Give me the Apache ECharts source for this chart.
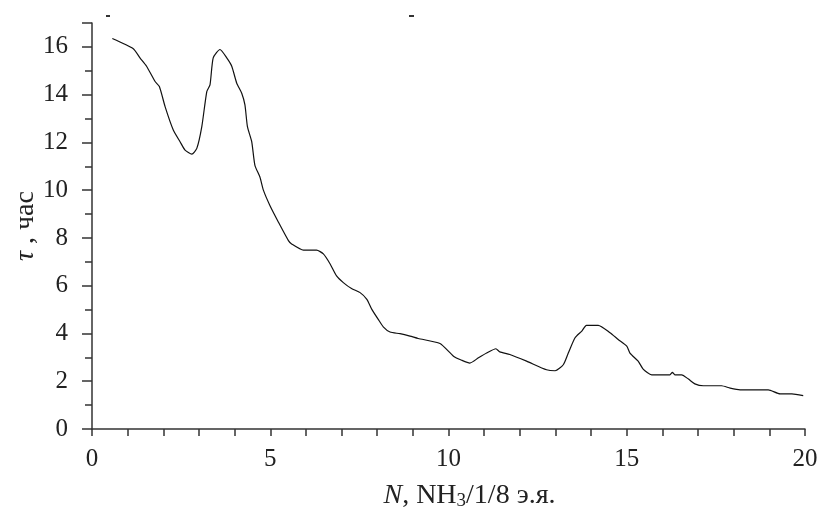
<!DOCTYPE html>
<html>
<head>
<meta charset="utf-8">
<script src="https://cdn.jsdelivr.net/npm/echarts@6/dist/echarts.min.js"></script>
<style>
  html, body { margin: 0; padding: 0; background: #fff; }
  #tauChart { width: 818px; height: 511px; }
</style>
</head>
<body>
<div id="tauChart"></div>
<script>
// N, NH3/1/8 э.я.
const nValues = [
  0.57, 1.15, 1.35, 1.53, 1.77, 1.89, 2.05, 2.28, 2.47, 2.61, 2.80, 2.94, 3.08, 3.22, 3.31, 3.40,
  3.59, 3.78, 3.92, 4.06, 4.20, 4.29, 4.36, 4.48, 4.57, 4.71, 4.81, 4.99, 5.23, 5.51, 5.60, 5.93,
  6.30, 6.49, 6.68, 6.86, 7.05, 7.28, 7.52, 7.71, 7.85, 8.03, 8.17, 8.36, 8.64, 8.92, 9.15, 9.76,
  10.14, 10.37, 10.60, 10.84, 11.07, 11.33, 11.44, 11.72, 12.19, 12.75, 12.99, 13.22, 13.36, 13.55,
  13.74, 13.87, 14.20, 14.53, 14.76, 15.00, 15.09, 15.32, 15.46, 15.70, 16.21, 16.28, 16.35, 16.54,
  16.73, 16.91, 17.15, 17.66, 17.90, 18.18, 18.97, 19.30, 19.63, 19.95
];
// τ, час
const tauValues = [
  16.35, 15.93, 15.53, 15.19, 14.55, 14.34, 13.50, 12.52, 12.03, 11.68, 11.51, 11.75, 12.66, 14.13, 14.41, 15.54,
  15.89, 15.54, 15.19, 14.48, 14.06, 13.57, 12.66, 12.03, 11.04, 10.55, 9.99, 9.36, 8.66, 7.89, 7.75, 7.49,
  7.49, 7.33, 6.91, 6.41, 6.13, 5.88, 5.71, 5.43, 5.01, 4.59, 4.28, 4.06, 3.99, 3.89, 3.79, 3.58,
  3.05, 2.88, 2.76, 2.98, 3.18, 3.36, 3.23, 3.12, 2.84, 2.48, 2.44, 2.69, 3.18, 3.82,
  4.10, 4.34, 4.34, 4.03, 3.75, 3.47, 3.18, 2.84, 2.51, 2.27, 2.27, 2.37, 2.27, 2.27,
  2.09, 1.89, 1.81, 1.81, 1.71, 1.64, 1.64, 1.47, 1.47, 1.40
];
const xTicks = [0, 5, 10, 15, 20];
const yTicks = [0, 2, 4, 6, 8, 10, 12, 14, 16];

const chart = echarts.init(document.getElementById("tauChart"));
const font = "Liberation Serif";
const axisColor = "#333";
const txt = "#222";

const option = {
  animation: false,
  backgroundColor: "#fff",
  grid: { left: 92, right: 13, top: 23, bottom: 82, containLabel: false, outerBoundsMode: "none" },
  xAxis: {
    type: "value",
    min: 0,
    max: 20,
    interval: 5,
    name: "{i|N}{r|, NH}{s|3}{r|/1/8 э.я.}",
    nameLocation: "middle",
    nameGap: 52,
    nameTextStyle: {
      fontFamily: font,
      fontSize: 28,
      color: txt,
      padding: [0, 0, 0, 42],
      rich: {
        i: { fontFamily: font, fontSize: 28, fontStyle: "italic", color: txt },
        r: { fontFamily: font, fontSize: 28, color: txt },
        s: { fontFamily: font, fontSize: 19, color: txt, padding: [11, 0, 0, 0] },
      },
    },
    axisLine: { show: true, onZero: false, lineStyle: { color: axisColor, width: 1.5 } },
    axisTick: { show: true, length: 7, lineStyle: { color: axisColor, width: 1.5 } },
    minorTick: { show: true, splitNumber: 5, length: 7, lineStyle: { color: axisColor, width: 1.5 } },
    splitLine: { show: false },
    minorSplitLine: { show: false },
    axisLabel: {
      margin: 18,
      fontFamily: font,
      fontSize: 25,
      color: txt,
      formatter: (v) => (xTicks.includes(v) ? String(v) : ""),
    },
  },
  yAxis: {
    type: "value",
    min: 0,
    max: 17,
    interval: 2,
    name: "{i|τ}{r| , час}",
    nameLocation: "middle",
    nameRotate: 90,
    nameGap: 52,
    nameMoveOverlap: false,
    nameTextStyle: {
      fontFamily: font,
      fontSize: 28,
      color: txt,
      rich: {
        i: { fontFamily: font, fontSize: 28, fontStyle: "italic", color: txt },
        r: { fontFamily: font, fontSize: 28, color: txt },
      },
    },
    axisLine: { show: true, onZero: false, lineStyle: { color: axisColor, width: 1.5 } },
    axisTick: { show: true, length: 10, lineStyle: { color: axisColor, width: 1.5 } },
    minorTick: { show: true, splitNumber: 2, length: 7, lineStyle: { color: axisColor, width: 1.5 } },
    splitLine: { show: false },
    minorSplitLine: { show: false },
    axisLabel: {
      margin: 24,
      fontFamily: font,
      fontSize: 25,
      color: txt,
      formatter: (v) => (yTicks.includes(v) ? String(v) : ""),
    },
  },
  series: [
    {
      type: "line",
      data: nValues.map((n, i) => [n, tauValues[i]]),
      showSymbol: false,
      smooth: 0.2,
      lineStyle: { color: "#111", width: 1.2 },
    },
  ],
  graphic: [
    { type: "rect", shape: { x: 106, y: 15, width: 4, height: 2 }, style: { fill: "#333" } },
    { type: "rect", shape: { x: 409, y: 15, width: 5, height: 2 }, style: { fill: "#333" } },
  ],
};

chart.setOption(option);
</script>
</body>
</html>
